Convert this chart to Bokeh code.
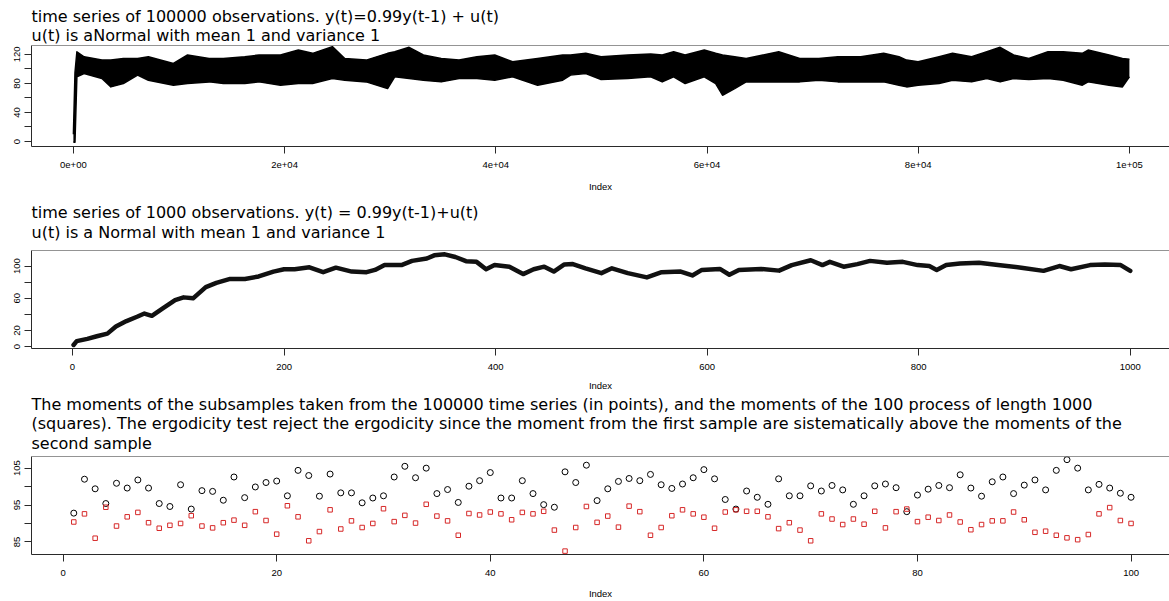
from bokeh.plotting import figure
from bokeh.layouts import column
from bokeh.models import Range1d, FixedTicker, Span, Title
from bokeh.embed import file_html
from bokeh.resources import INLINE

TITLE_FONT = "DejaVu Sans"
AXIS_FONT = "Liberation Sans"
AXIS_COLOR = "#2a2a2a"
SQUARE_RED = "#d62828"

# ---------------------------------------------------------------------------
# Long run (100000 observations): lowest / highest value over each stretch
long_index = [0, 150, 330, 1010, 2700, 3550, 4730, 6080, 7100, 9470, 10810,
              12850, 14200, 16230, 17580, 19610, 21300, 22650, 24520, 25700,
              27730, 29750, 30430, 31790, 33140, 34830, 36520, 38210, 39900,
              41590, 43960, 46330, 47080, 48520, 49970, 52500, 54670, 55760,
              56840, 57930, 59740, 60820, 61470, 62620, 63710, 66790, 68780,
              70590, 72390, 74560, 76730, 78180, 78900, 79990, 81980, 83250,
              85060, 86500, 87760, 89030, 90480, 92290, 93730, 95540, 96090,
              98070, 99340, 100000]
long_low = [-1.0, -1.0, 89.1, 93.6, 86.8, 75.2, 79.8, 91.4, 84.4, 77.5, 79.8,
            82.1, 79.8, 79.8, 82.1, 77.5, 79.8, 79.8, 86.8, 84.4,
            82.1, 72.9, 89.1, 86.8, 84.4, 82.1, 86.8, 86.8, 84.4,
            89.1, 77.5, 84.4, 91.4, 93.6, 85.3, 86.8, 89.1, 82.1,
            89.1, 79.8, 89.1, 79.8, 63.7, 72.9, 82.1, 82.1, 82.1,
            84.4, 82.1, 82.1, 82.1, 77.5, 75.2, 77.5, 79.8, 84.4,
            82.1, 86.8, 82.1, 86.8, 85.3, 86.8, 84.4, 77.5, 82.1,
            77.5, 75.2, 89.1]
long_high = [10.0, 95.0, 123.6, 116.7, 112.1, 112.1, 114.4, 114.4, 116.7, 107.5, 119.1,
             114.4, 114.4, 116.7, 119.1, 119.1, 125.9, 121.4, 130.6, 114.4,
             112.1, 121.4, 123.6, 129.7, 119.1, 114.4, 112.1, 116.7, 119.1,
             109.8, 114.4, 119.1, 119.1, 121.4, 116.7, 119.1, 120.4, 119.1,
             123.6, 119.1, 125.9, 121.4, 119.1, 116.7, 114.4, 123.6, 114.4,
             114.4, 116.7, 116.7, 121.4, 116.7, 112.1, 109.8, 116.7, 121.4,
             116.7, 123.6, 129.7, 119.1, 114.4, 123.6, 123.6, 121.4, 125.9,
             119.1, 114.4, 113.2]

# Short run (1000 observations)
short_index = [1, 4, 14, 23, 33, 41, 51, 61, 68, 75, 85, 97, 105, 114, 126, 136,
               149, 163, 176, 190, 200, 210, 224, 237, 249, 264, 278, 286, 295,
               311, 321, 335, 342, 352, 362, 372, 382, 391, 399, 413, 426, 436,
               446, 455, 465, 473, 485, 500, 510, 525, 543, 557, 575, 586, 595,
               612, 621, 630, 651, 668, 680, 698, 709, 716, 729, 742, 754, 770,
               785, 799, 810, 817, 826, 839, 857, 875, 897, 918, 933, 944, 962,
               976, 991, 1000]
short_value = [2.0, 6.8, 9.6, 12.8, 16.1, 24.9, 31.7, 37.0, 41.0, 38.2, 47.0,
               57.8, 61.1, 59.9, 73.9, 79.1, 84.0, 84.0, 87.1, 93.1, 96.0, 96.0,
               98.4, 92.4, 98.0, 93.1, 92.4, 95.2, 101.2, 101.2, 106.4, 109.3,
               113.3, 114.5, 111.2, 106.0, 105.2, 96.0, 101.2, 99.2, 90.0, 96.0,
               99.2, 93.1, 102.0, 102.4, 97.2, 91.2, 97.2, 91.2, 85.9, 92.4,
               93.1, 88.3, 95.2, 96.4, 89.2, 95.2, 96.4, 94.3, 101.2, 107.2,
               101.2, 105.2, 99.2, 102.4, 106.4, 104.0, 105.2, 101.2, 100.0,
               95.2, 101.2, 103.2, 104.0, 101.2, 98.0, 94.0, 100.0, 96.0, 101.2,
               102.0, 101.2, 94.0]

# Moments: subsamples of the long run (points) vs. 100 runs of length 1000 (squares)
moment_index = list(range(1, 101))
moments_long = [92.8, 102.0, 99.4, 95.4, 100.9, 99.6, 101.8, 99.6, 95.4, 94.6,
                100.5, 93.9, 98.9, 98.7, 96.3, 102.6, 97.0, 99.9, 101.1, 101.5,
                97.5, 104.4, 103.0, 97.4, 103.4, 98.3, 98.3, 95.6, 96.9, 97.5,
                102.6, 105.5, 102.4, 105.0, 98.1, 99.2, 95.7, 100.1, 101.6, 103.8,
                96.9, 96.9, 101.6, 98.1, 95.1, 94.4, 104.0, 101.1, 105.8, 96.2,
                99.4, 101.4, 102.2, 101.6, 103.3, 100.5, 99.5, 100.7, 102.4, 104.6,
                102.1, 96.5, 93.9, 98.8, 97.1, 95.2, 102.1, 97.5, 97.5, 100.2,
                98.8, 100.3, 99.1, 95.2, 97.5, 100.2, 100.7, 99.7, 93.2, 97.7,
                99.3, 100.3, 99.7, 103.2, 99.6, 97.4, 101.3, 102.6, 98.1, 100.4,
                101.8, 99.1, 104.4, 107.3, 105.0, 99.1, 100.6, 99.6, 98.2, 97.1]
moments_short = [90.4, 92.6, 86.0, 94.4, 89.3, 91.8, 93.0, 90.2, 88.7, 89.5,
                 90.0, 92.1, 89.3, 88.8, 90.2, 90.9, 89.5, 93.2, 90.8, 87.1,
                 94.8, 91.8, 85.3, 87.8, 93.7, 88.5, 90.7, 88.9, 90.0, 94.0,
                 90.5, 92.2, 90.1, 95.2, 92.0, 90.7, 86.8, 92.7, 92.3, 93.1,
                 92.6, 91.0, 93.0, 92.6, 93.3, 88.2, 82.5, 88.9, 94.6, 90.3,
                 92.0, 89.0, 94.7, 93.2, 86.8, 88.9, 92.1, 93.7, 92.6, 91.7,
                 88.7, 93.1, 93.7, 93.3, 93.3, 91.8, 88.6, 90.2, 88.2, 85.3,
                 92.6, 91.2, 89.7, 91.2, 89.8, 93.3, 88.8, 93.2, 93.9, 90.5,
                 91.7, 90.8, 92.3, 90.4, 88.3, 89.7, 90.7, 90.7, 93.1, 91.0,
                 87.6, 87.9, 86.8, 86.1, 85.6, 87.0, 92.6, 94.3, 90.8, 90.0]

# Axis ticks and their labels ("" = tick without label)
long_xticks = [0, 20000, 40000, 60000, 80000, 100000]
long_xlabels = ["0e+00", "2e+04", "4e+04", "6e+04", "8e+04", "1e+05"]
long_yticks = [0, 20, 40, 60, 80, 100, 120]
long_ylabels = ["0", "", "40", "", "80", "", "120"]
short_xticks = [0, 200, 400, 600, 800, 1000]
short_xlabels = ["0", "200", "400", "600", "800", "1000"]
short_yticks = [0, 20, 40, 60, 80, 100]
short_ylabels = ["0", "20", "", "60", "", "100"]
moment_xticks = [0, 20, 40, 60, 80, 100]
moment_xlabels = ["0", "20", "40", "60", "80", "100"]
moment_yticks = [85, 90, 95, 100, 105]
moment_ylabels = ["85", "", "95", "", "105"]

title_long = ["time series of 100000 observations. y(t)=0.99y(t-1) + u(t)",
              "u(t) is aNormal with mean 1 and variance 1"]
title_short = ["time series of 1000 observations. y(t) = 0.99y(t-1)+u(t)",
               "u(t) is a Normal with mean 1 and variance 1"]
title_moments = ["The moments of the subsamples taken from the 100000 time series (in points), "
                 "and the moments of the 100 process of length 1000",
                 "(squares). The ergodicity test reject the ergodicity since the moment from the "
                 "first sample are sistematically above the moments of the",
                 "second sample"]

WIDTH = 1169
FRAME_LEFT = 31


def make_panel(height, top, bottom, xr, yr, xticks, xlabels, yticks, ylabels,
               title_lines, title_standoff, title_valign, label_standoff):
    p = figure(width=WIDTH, height=height, output_backend="svg", toolbar_location=None,
               x_range=Range1d(*xr), y_range=Range1d(*yr),
               min_border_left=FRAME_LEFT, min_border_right=0,
               min_border_top=top, min_border_bottom=bottom)
    p.outline_line_color = None
    p.grid.visible = False
    p.background_fill_color = "white"
    p.border_fill_color = "white"
    for ax, ticks, labels in ((p.xaxis[0], xticks, xlabels), (p.yaxis[0], yticks, ylabels)):
        ax.ticker = FixedTicker(ticks=ticks)
        ax.major_label_overrides = {t: lab for t, lab in zip(ticks, labels)}
        ax.major_tick_out = 7
        ax.major_tick_in = 0
        ax.minor_tick_line_color = None
        ax.axis_line_color = AXIS_COLOR
        ax.major_tick_line_color = AXIS_COLOR
        ax.major_label_text_font = AXIS_FONT
        ax.major_label_text_font_size = "9.5px"
        ax.major_label_text_color = "black"
    p.yaxis[0].major_label_orientation = "vertical"
    p.yaxis[0].major_label_standoff = 4
    xa = p.xaxis[0]
    xa.major_label_standoff = 8
    xa.axis_label = "Index"
    xa.axis_label_text_font = AXIS_FONT
    xa.axis_label_text_font_size = "9.5px"
    xa.axis_label_text_font_style = "normal"
    xa.axis_label_text_color = "black"
    xa.axis_label_standoff = label_standoff
    # upper edge of the box
    p.add_layout(Span(location=yr[1], dimension="width", line_color=AXIS_COLOR, line_width=1))
    # caption above the box
    p.add_layout(Title(text="\n".join(title_lines), align="left", offset=0,
                       vertical_align=title_valign, standoff=title_standoff,
                       text_font=TITLE_FONT, text_font_size="16px",
                       text_font_style="normal", text_line_height=1.05,
                       text_color="black"), "above")
    return p


# --- top panel: long series
p1 = make_panel(196, 45, 50, (-3968, 103797), (-6.9, 132.2),
                long_xticks, long_xlabels, long_yticks, long_ylabels,
                title_long, 0, "bottom", 10)
p1.varea(x=long_index, y1=long_low, y2=long_high, fill_color="black")
p1.line(long_index, long_low, line_color="black", line_width=1.5, line_join="round")
p1.line(long_index, long_high, line_color="black", line_width=1.5, line_join="round")

# --- middle panel: short series
p2 = make_panel(197, 54, 42, (-38.76, 1037.1), (-2.4, 119.3),
                short_xticks, short_xlabels, short_yticks, short_ylabels,
                title_short, 13.5, "top", 7)
p2.line(short_index, short_value, line_color="#111111", line_width=4.5, line_join="round",
        line_cap="round")

# --- bottom panel: moments
p3 = make_panel(208, 62, 45, (-2.96, 103.6), (81.58, 108.16),
                moment_xticks, moment_xlabels, moment_yticks, moment_ylabels,
                title_moments, 2, "top", 9)
p3.scatter(moment_index, moments_long, marker="circle", size=6, fill_color=None,
           line_color="black", line_width=1)
p3.scatter(moment_index, moments_short, marker="square", size=4.5, fill_color=None,
           line_color=SQUARE_RED, line_width=1)

layout = column(p1, p2, p3, spacing=0)
open("out.html", "w").write(file_html(layout, INLINE))
